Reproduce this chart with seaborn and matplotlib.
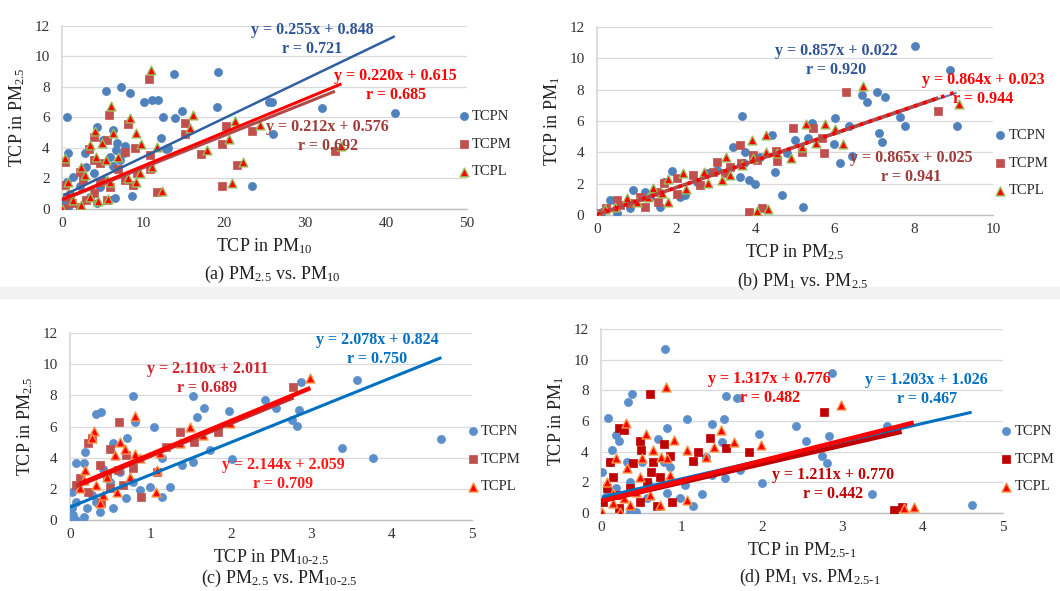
import matplotlib
matplotlib.use("Agg")
import matplotlib.pyplot as plt
import numpy as np
import seaborn as sns

# -----------------------------------------------------------------------------
# DATA
# -----------------------------------------------------------------------------
series_names = ["TCPN", "TCPM", "TCPL"]

# (a) PM2.5 vs PM10
a_tcpn_x = [0.6, 0.8, 5.4, 7.3, 8.4, 10.1, 11.1, 11.8, 13.8, 19.3, 12.5, 14.0, 14.8, 19.2, 12.2,
            12.9, 25.6, 25.9, 32.1, 41.1, 26.0, 23.5, 8.6, 6.5, 4.3, 6.3, 5.1, 6.8, 2.8, 5.9,
            7.6, 3.0, 1.4, 0.6, 4.3, 3.9, 7.2, 6.3, 4.7, 0.2, 1.0, 2.2, 0.4, 3.5, 6.7, 5.1,
            7.8, 0.8, 13.1]
a_tcpn_y = [6.05, 3.65, 7.76, 7.98, 7.58, 7.0, 7.15, 7.15, 8.85, 9.0, 6.0, 5.95, 6.4, 6.67, 4.63,
            3.93, 7.04, 7.0, 6.6, 6.27, 4.92, 1.53, 0.87, 0.7, 5.4, 5.18, 4.5, 4.3, 3.65, 3.43,
            3.65, 2.78, 2.1, 1.8, 0.37, 2.34, 3.2, 2.8, 1.46, 0.6, 1.0, 1.5, 0.26, 0.8, 3.87, 1.9,
            4.1, 0.15, 3.98]
a_tcpm_x = [10.7, 5.8, 8.2, 15.2, 15.2, 20.3, 19.7, 23.5, 17.2, 21.6, 19.7, 11.7, 10.9, 10.9,
            33.7, 0.4, 3.9, 3.3, 3.9, 4.7, 5.5, 7.8, 9.0, 2.2, 2.6, 4.7, 7.8, 8.8, 9.2, 0.4,
            0.6, 1.2, 2.2, 5.5, 3.9, 0.2, 3.0, 5.9, 6.9]
a_tcpm_y = [8.5, 6.16, 5.57, 5.62, 4.92, 5.44, 4.26, 5.14, 3.6, 2.89, 1.53, 1.14, 3.54, 2.6,
            3.83, 3.1, 4.74, 3.91, 3.2, 3.0, 4.5, 3.76, 3.98, 2.45, 1.9, 1.79, 1.9, 1.57, 2.34, 1.57,
            0.81, 0.37, 0.15, 0.59, 1.03, 0.04, 0.59, 1.46, 2.6]
a_tcpl_x = [11.0, 6.05, 8.4, 16.2, 15.8, 21.4, 20.6, 24.4, 17.9, 22.4, 21.0, 12.4, 11.7, 11.1,
            34.5, 0.4, 4.1, 3.4, 4.2, 4.9, 6.3, 9.1, 9.8, 2.4, 2.8, 5.5, 8.2, 9.1, 9.6, 0.8,
            0.8, 1.4, 2.4, 5.7, 4.4, 0.0, 3.5, 5.9, 5.4, 6.95]
a_tcpl_y = [9.11, 6.75, 5.99, 6.16, 5.29, 5.79, 4.57, 5.51, 3.87, 3.1, 1.73, 1.2, 4.09, 2.78,
            4.13, 3.32, 5.11, 4.2, 3.43, 4.3, 4.96, 4.96, 4.26, 2.78, 2.23, 1.9, 2.0, 1.79, 2.34, 1.79,
            1.03, 0.59, 0.26, 0.63, 0.52, 0.0, 0.81, 1.79, 3.2, 3.43]
a_slopes = [0.255, 0.212, 0.220]
a_intercepts = [0.848, 0.576, 0.615]
a_r = [0.721, 0.692, 0.685]

# (b) PM1 vs PM2.5
b_tcpn_x = [8.03, 8.91, 7.06, 6.68, 6.81, 7.27, 7.65, 7.78, 9.08, 7.11, 7.19, 6.01, 6.37, 5.98,
            6.14, 6.43, 5.42, 5.34, 5.0, 5.19, 4.66, 4.49, 4.41, 3.65, 3.44, 3.74, 3.61, 3.85,
            3.99, 3.7, 1.89, 2.1, 2.22, 0.92, 1.21, 1.59, 1.68, 0.33, 0.12, 0.5, 0.83, 2.77,
            3.02, 4.79, 4.12, 1.34, 2.52]
b_tcpn_y = [10.79, 9.26, 7.87, 7.66, 7.23, 7.55, 6.28, 5.68, 5.68, 5.21, 4.68, 6.17, 5.68, 4.53,
            3.3, 3.77, 5.85, 4.89, 4.79, 0.53, 1.28, 2.77, 5.11, 6.32, 4.36, 4.04, 2.45, 2.23,
            1.96, 3.3, 2.81, 1.17, 1.28, 1.6, 1.49, 0.53, 2.13, 0.96, 0.21, 0.11, 0.43, 2.66,
            2.87, 3.94, 3.72, 1.17, 2.13]
b_tcpm_x = [6.3, 8.62, 4.94, 5.46, 5.67, 5.73, 4.51, 4.54, 3.61, 3.64, 3.93, 3.85, 4.16, 3.04,
            2.92, 2.43, 2.01, 2.01, 1.68, 1.55, 1.21, 0.83, 0.58, 0.24, 0.03, 2.6, 3.23, 1.51,
            5.17, 3.36, 4.03, 0.5, 1.09]
b_tcpm_y = [7.87, 6.64, 5.53, 5.53, 4.94, 3.98, 4.11, 3.47, 4.47, 3.3, 3.83, 0.21, 0.43, 3.36,
            2.77, 2.55, 2.34, 1.32, 2.02, 0.85, 0.53, 0.74, 0.64, 0.43, 0.11, 1.91, 2.66, 1.49,
            4.04, 3.09, 3.51, 0.96, 1.17]
b_tcpl_x = [6.71, 9.15, 5.28, 5.76, 5.53, 6.2, 6.01, 4.28, 4.26, 3.91, 3.93, 4.89, 5.17, 4.03,
            4.33, 3.26, 3.37, 3.15, 2.69, 2.81, 2.24, 2.18, 1.8, 1.8, 1.3, 1.0, 0.75, 0.45, 0.2,
            0.0, 1.63, 1.42, 3.65, 4.54]
b_tcpl_y = [8.23, 7.09, 5.81, 5.81, 4.57, 4.53, 5.47, 5.11, 4.04, 4.79, 3.62, 3.66, 4.36, 0.28,
            0.36, 3.68, 2.55, 2.23, 2.77, 2.06, 1.64, 2.66, 2.28, 0.85, 1.17, 0.85, 1.06, 0.53,
            0.36, 0.0, 1.38, 1.7, 3.19, 3.94]
b_slopes = [0.857, 0.865, 0.864]
b_intercepts = [0.022, 0.025, 0.023]
b_r = [0.920, 0.941, 0.944]

# (c) PM2.5 vs PM10-2.5
c_tcpn_x = [3.57, 2.88, 4.62, 3.38, 3.77, 2.43, 2.56, 2.85, 2.76, 2.82, 1.98, 2.01, 1.74, 1.53,
            1.67, 1.58, 1.53, 1.39, 1.04, 1.14, 1.15, 1.25, 0.99, 0.79, 0.81, 0.33, 0.39, 0.71,
            0.54, 0.08, 0.17, 0.19, 0.02, 0.08, 0.21, 0.37, 0.54, 0.04, 0.17, 0.33, 0.7, 0.87,
            0.62, 0.5, 0.02, 0.27, 0.79, 0.41, 0.08, 0.0]
c_tcpn_y = [8.98, 8.83, 5.18, 4.6, 4.0, 7.7, 7.17, 7.06, 6.42, 6.05, 7.02, 3.89, 4.49, 7.98,
            7.17, 6.63, 3.74, 3.53, 5.99, 3.96, 1.5, 2.14, 2.14, 7.98, 6.31, 6.8, 6.95, 5.28,
            4.92, 3.64, 3.64, 4.39, 1.82, 1.18, 0.75, 0.53, 0.75, 0.32, 0.21, 1.18, 1.39, 1.93,
            3.1, 2.46, 0.75, 1.6, 2.46, 3.3, 0.0, 0.1]
c_tcpm_x = [2.78, 0.61, 0.27, 0.22, 0.5, 0.37, 0.6, 1.37, 1.2, 1.54, 1.84, 0.88, 1.08, 0.7,
            0.12, 0.23, 0.39, 0.5, 0.79, 0.08, 0.46, 0.66]
c_tcpm_y = [8.56, 6.31, 5.24, 4.92, 4.56, 3.53, 3.21, 5.63, 4.71, 5.03, 5.67, 1.5, 3.06, 4.17,
            2.67, 1.82, 1.18, 2.03, 3.32, 2.25, 2.89, 2.25]
c_tcpl_x = [2.99, 0.81, 0.3, 0.28, 0.62, 1.49, 1.66, 1.99, 1.08, 1.07, 0.19, 0.37, 0.68, 0.81,
            0.56, 0.46, 0.33, 0.75, 0.87, 0.17, 0.12, 1.12, 0.58, 0.41, 1.37]
c_tcpl_y = [9.09, 6.7, 5.71, 5.24, 5.03, 5.99, 5.45, 6.2, 3.21, 1.82, 3.21, 1.07, 4.56, 4.21,
            4.17, 2.78, 2.25, 2.78, 3.96, 2.57, 2.03, 4.28, 1.82, 1.6, 4.92]
c_slopes = [2.078, 2.110, 2.144]
c_intercepts = [0.824, 2.011, 2.059]
c_r = [0.750, 0.689, 0.709]

# (d) PM1 vs PM2.5-1
d_tcpn_x = [0.79, 2.87, 0.33, 0.38, 0.09, 1.07, 1.53, 1.56, 1.69, 1.38, 0.82, 0.71, 1.97, 2.43,
            2.55, 2.84, 2.75, 2.81, 3.56, 3.37, 4.61, 2.0, 1.25, 1.15, 1.54, 1.73, 1.38, 1.51,
            1.31, 0.19, 0.22, 0.14, 0.11, 0.01, 0.32, 0.51, 0.78, 0.86, 1.04, 0.98, 0.82, 0.57,
            0.36, 0.44, 0.59, 0.07, 0.19, 0.36]
d_tcpn_y = [10.67, 9.15, 7.26, 7.76, 6.22, 6.13, 6.13, 7.63, 7.52, 5.78, 5.57, 4.8, 5.13, 5.67,
            4.7, 5.02, 3.72, 3.24, 5.7, 1.24, 0.52, 1.98, 1.24, 0.46, 2.3, 2.8, 2.48, 4.65,
            3.67, 5.09, 4.7, 4.11, 3.35, 2.7, 3.35, 3.35, 3.35, 3.02, 1.83, 0.96, 1.28, 0.96,
            0.09, 0.09, 1.93, 1.17, 1.61, 2.04]
d_tcpm_x = [0.61, 2.77, 0.22, 0.28, 0.48, 0.5, 0.62, 0.78, 0.86, 0.4, 1.36, 1.21, 1.15, 1.55,
            1.84, 0.88, 0.7, 3.64, 3.74, 0.11, 0.15, 0.07, 0.03, 0.24, 0.36, 0.57, 0.73, 0.49,
            0.22, 0.65]
d_tcpm_y = [7.76, 6.57, 5.57, 5.41, 4.72, 4.11, 2.7, 4.5, 3.72, 3.24, 4.91, 3.96, 3.39, 4.22,
            4.0, 0.7, 0.48, 0.2, 0.37, 3.35, 2.37, 1.61, 0.74, 1.17, 1.61, 2.04, 2.37, 0.74,
            0.3, 3.35]
d_tcpl_x = [0.81, 2.98, 0.31, 0.56, 0.91, 1.49, 1.65, 1.4, 1.31, 1.07, 1.99, 1.07, 0.73, 3.77,
            3.89, 0.19, 0.32, 0.49, 0.65, 0.75, 0.82, 0.86, 0.51, 0.07, 0.15, 0.28, 0.36, 0.44,
            0.15, 0.01, 0.24, 0.61]
d_tcpl_y = [8.24, 7.04, 5.85, 5.13, 4.76, 5.41, 4.65, 4.28, 3.63, 4.11, 4.43, 0.85, 0.52, 0.3,
            0.41, 3.57, 2.91, 2.37, 4.11, 3.67, 3.57, 2.48, 3.57, 2.04, 1.28, 0.96, 0.52, 1.39,
            0.63, 0.09, 0.09, 1.17]
d_slopes = [1.203, 1.211, 1.317]
d_intercepts = [1.026, 0.770, 0.776]
d_r = [0.467, 0.442, 0.482]

# -----------------------------------------------------------------------------
# STYLE
# -----------------------------------------------------------------------------
sns.set_theme(style="white")
plt.rcParams["font.family"] = ["Liberation Serif", "DejaVu Serif"]
plt.rcParams["mathtext.fontset"] = "custom"
plt.rcParams["mathtext.rm"] = "Liberation Serif"
plt.rcParams["mathtext.it"] = "Liberation Serif:italic"
plt.rcParams["mathtext.bf"] = "Liberation Serif:bold"

GRID = "#D9D9D9"
TICK = "#333333"


def draw_panel(ax, data, markers, lines, fits, eq_pos, eq_colors, xmax, xstep,
               xlabel, ylabel, caption, cap_y, leg_anchor):
    slopes, intercepts, rs = fits
    # scatter series
    for name, (xs, ys), (mk, face, edge, size, lw) in zip(series_names, data, markers):
        sns.scatterplot(x=xs, y=ys, ax=ax, marker=mk, color=face, edgecolor=edge,
                        s=size, linewidth=lw, label=name, zorder=3)
    # linear trend lines over each series' x range
    for (xs, _), m, b, (col, lw, ls) in zip(data, slopes, intercepts, lines):
        xr = np.array([min(xs), max(xs)])
        ax.plot(xr, m * xr + b, color=col, lw=lw, ls=ls, zorder=4,
                solid_capstyle="butt")
    # equations
    for m, b, r, (px, py), col in zip(slopes, intercepts, rs, eq_pos, eq_colors):
        ax.text(px, py, f"y = {m:.3f}x + {b:.3f}\nr = {r:.3f}", color=col,
                fontsize=11.5, fontweight="bold", ha="center", va="center",
                multialignment="center", linespacing=1.25, zorder=5)

    ax.set_xlim(0, xmax)
    ax.set_ylim(0, 12)
    ax.set_xticks(np.arange(0, xmax + 0.001, xstep))
    ax.set_yticks(np.arange(0, 13, 2))
    ax.yaxis.grid(True, color=GRID, lw=0.9)
    ax.xaxis.grid(False)
    ax.set_axisbelow(True)
    for s in ["top", "right"]:
        ax.spines[s].set_visible(False)
    ax.spines["left"].set_color(GRID)
    ax.spines["bottom"].set_color("#BFBFBF")
    ax.spines["bottom"].set_linewidth(1.0)
    ax.tick_params(axis="both", length=0, labelsize=11, colors=TICK)
    ax.tick_params(axis="y", pad=9)
    ax.tick_params(axis="x", pad=6)
    ax.set_xlabel(xlabel, fontsize=13, color="#222222", labelpad=4)
    ax.set_ylabel(ylabel, fontsize=13, color="#222222", labelpad=5)
    ax.text(0.52, cap_y, caption, transform=ax.transAxes, fontsize=13,
            ha="center", va="center", color="#222222")
    ax.legend(loc="center left", bbox_to_anchor=leg_anchor, frameon=False,
              fontsize=10.5, handletextpad=0.05, labelspacing=1.0,
              handlelength=1.0, borderpad=0, borderaxespad=0)


fig = plt.figure(figsize=(10.6, 5.91), dpi=100)
fig.patch.set_facecolor("white")
# faint grey separator between the two rows
fig.add_artist(plt.Rectangle((0, 0.495), 1, 0.02, transform=fig.transFigure,
                             color="#F2F2F2", zorder=0))

ax_a = fig.add_axes([0.0585, 0.6464, 0.382, 0.3096])
ax_b = fig.add_axes([0.5632, 0.6362, 0.3736, 0.318])
ax_c = fig.add_axes([0.0660, 0.1201, 0.3792, 0.3164])
ax_d = fig.add_axes([0.5670, 0.1320, 0.3792, 0.3113])

mk_ab = [("o", "#4F81BD", "#4F81BD", 34, 0.5),
         ("s", "#C0504D", "#C0504D", 30, 0.5),
         ("^", "#FF0000", "#9BBB59", 40, 1.0)]
mk_c = [("o", "#5B8FCC", "#5B8FCC", 34, 0.5),
        ("s", "#C0504D", "#C0504D", 30, 0.5),
        ("^", "#FF0000", "#F79646", 42, 1.0)]
mk_d = [("o", "#5B8FCC", "#5B8FCC", 34, 0.5),
        ("s", "#C00000", "#C00000", 30, 0.5),
        ("^", "#FF0000", "#F79646", 42, 1.0)]

draw_panel(ax_a, [(a_tcpn_x, a_tcpn_y), (a_tcpm_x, a_tcpm_y), (a_tcpl_x, a_tcpl_y)],
           mk_ab,
           [("#2F5F9E", 1.8, "-"), ("#B04A47", 2.2, "-"), ("#FF0000", 2.2, "-")],
           (a_slopes, a_intercepts, a_r),
           [(30.9, 11.1), (32.8, 4.78), (41.2, 8.1)],
           ["#2F5597", "#9E3B38", "#FF0000"],
           50, 10, r"TCP in PM$_{10}$", r"TCP in PM$_{2.5}$",
           r"(a) PM$_{2.5}$ vs. PM$_{10}$", -0.36, (0.975, 0.355))

draw_panel(ax_b, [(b_tcpn_x, b_tcpn_y), (b_tcpm_x, b_tcpm_y), (b_tcpl_x, b_tcpl_y)],
           mk_ab,
           [("#4F81BD", 1.5, "-"), ("#B04A47", 2.6, "-"), ("#FF0000", 2.6, ":")],
           (b_slopes, b_intercepts, b_r),
           [(6.04, 9.87), (7.94, 3.01), (9.76, 8.0)],
           ["#2F5597", "#9E3B38", "#FF0000"],
           10, 2, r"TCP in PM$_{2.5}$", r"TCP in PM$_{1}$",
           r"(b) PM$_{1}$ vs. PM$_{2.5}$", -0.355, (1.0, 0.277))

draw_panel(ax_c, [(c_tcpn_x, c_tcpn_y), (c_tcpm_x, c_tcpm_y), (c_tcpl_x, c_tcpl_y)],
           mk_c,
           [("#0070C0", 2.2, "-"), ("#C0302D", 3.2, "-"), ("#FF0000", 3.2, "-")],
           (c_slopes, c_intercepts, c_r),
           [(3.82, 10.97), (1.71, 9.1), (2.65, 2.94)],
           ["#0070C0", "#D0202A", "#FF1A1A"],
           5, 1, r"TCP in PM$_{10\text{-}2.5}$", r"TCP in PM$_{2.5}$",
           r"(c) PM$_{2.5}$ vs. PM$_{10\text{-}2.5}$", -0.315, (0.985, 0.326))

draw_panel(ax_d, [(d_tcpn_x, d_tcpn_y), (d_tcpm_x, d_tcpm_y), (d_tcpl_x, d_tcpl_y)],
           mk_d,
           [("#0070C0", 2.2, "-"), ("#C00000", 3.2, "-"), ("#FF0000", 3.2, "-")],
           (d_slopes, d_intercepts, d_r),
           [(4.05, 8.03), (2.89, 1.85), (2.1, 8.11)],
           ["#0070C0", "#C00000", "#FF0000"],
           5, 1, r"TCP in PM$_{2.5\text{-}1}$", r"TCP in PM$_{1}$",
           r"(d) PM$_{1}$ vs. PM$_{2.5\text{-}1}$", -0.35, (0.99, 0.293))

fig.savefig("out.png", dpi=100)
